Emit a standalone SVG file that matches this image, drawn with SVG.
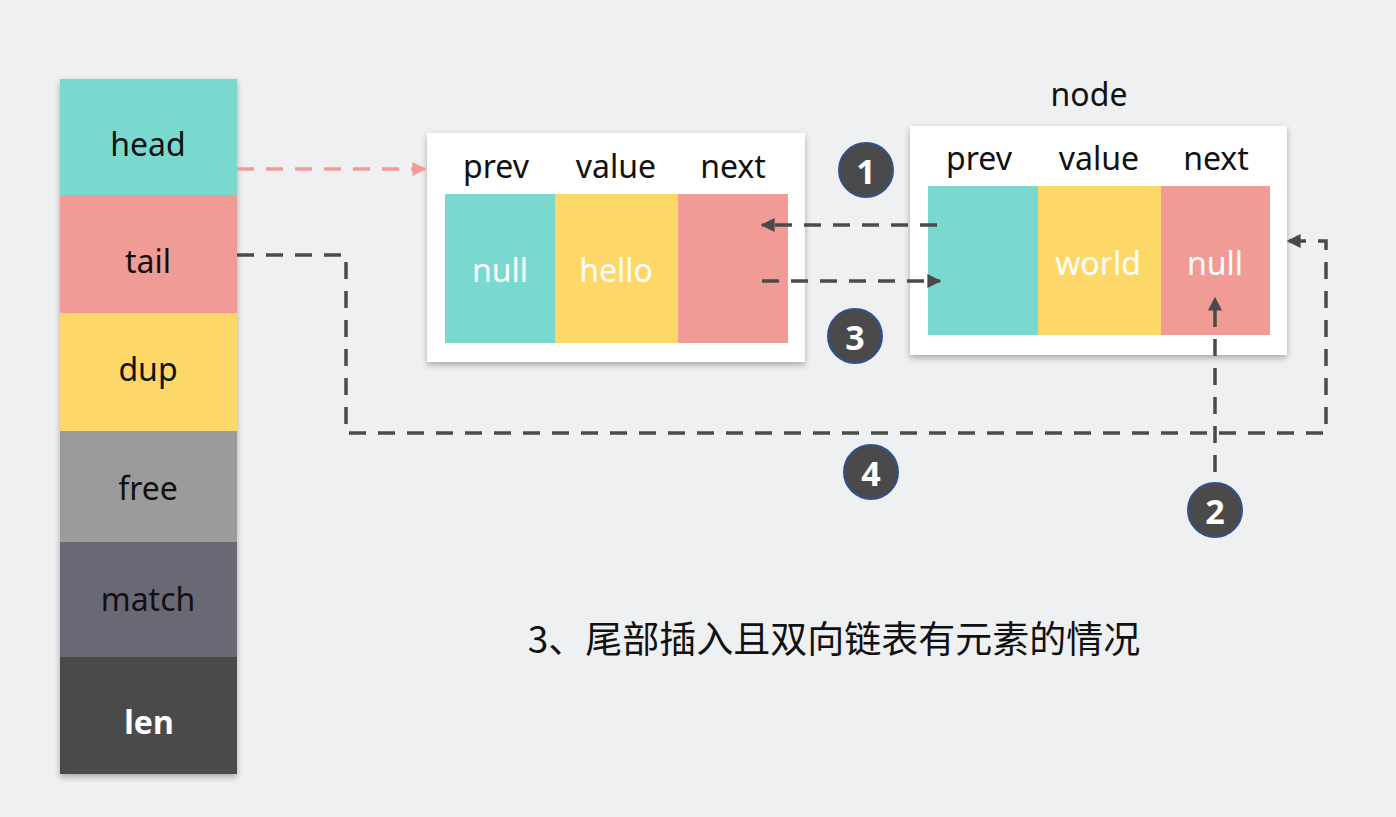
<svg xmlns="http://www.w3.org/2000/svg" width="1396" height="817" viewBox="0 0 1396 817">
<defs>
<style>
.lbl{font-family:"Noto Sans","Liberation Sans",sans-serif;font-size:32px;fill:#111;text-anchor:middle;dominant-baseline:central}
.wt{font-family:"Noto Sans","Liberation Sans",sans-serif;font-size:32px;fill:#fff;text-anchor:middle;dominant-baseline:central}
.num{font-family:"Noto Sans","Liberation Sans",sans-serif;font-size:34px;font-weight:bold;fill:#fff;text-anchor:middle;dominant-baseline:central}
.dash{fill:none;stroke:#4a4a4a;stroke-width:3.5;stroke-dasharray:17 12}
.circ{fill:#4a4a4a;stroke:#2f5190;stroke-width:2}
</style>
<filter id="sh" x="-10%" y="-10%" width="125%" height="125%">
<feDropShadow dx="0" dy="3" stdDeviation="3" flood-color="#000" flood-opacity="0.3"/>
</filter>
<marker id="ah" viewBox="0 0 10 10" refX="9" refY="5" markerWidth="4" markerHeight="4" orient="auto" markerUnits="strokeWidth">
<path d="M0,0 L10,5 L0,10 Z" fill="#4a4a4a"/>
</marker>
<marker id="ahp" viewBox="0 0 10 10" refX="9" refY="5" markerWidth="4" markerHeight="4" orient="auto" markerUnits="strokeWidth">
<path d="M0,0 L10,5 L0,10 Z" fill="#f39c97"/>
</marker>
</defs>
<rect width="1396" height="817" fill="#eff0f2"/>

<g id="list">
<g filter="url(#sh)">
<rect x="60" y="79" width="177" height="695" fill="#4a4a4a"/>
</g>
<rect x="60" y="79" width="177" height="116" fill="#79d9cf"/>
<rect x="60" y="195" width="177" height="118" fill="#f09b95"/>
<rect x="60" y="313" width="177" height="118" fill="#fdd868"/>
<rect x="60" y="431" width="177" height="111" fill="#9b9b9b"/>
<rect x="60" y="542" width="177" height="115" fill="#6a6875"/>
<rect x="60" y="657" width="177" height="117" fill="#4a4a4a"/>
<text class="lbl" x="148" y="143">head</text>
<text class="lbl" x="148" y="260">tail</text>
<text class="lbl" x="148" y="368">dup</text>
<text class="lbl" x="148" y="487">free</text>
<text class="lbl" x="148" y="598">match</text>
<text class="wt" x="149" y="721" style="font-weight:bold">len</text>
</g>

<g id="node1">
<rect x="427" y="133" width="378" height="229" fill="#fff" filter="url(#sh)"/>
<text class="lbl" x="496" y="165">prev</text>
<text class="lbl" x="616" y="165">value</text>
<text class="lbl" x="733" y="165">next</text>
<rect x="445" y="194" width="110" height="149" fill="#79d9cf"/>
<rect x="555" y="194" width="123" height="149" fill="#fdd868"/>
<rect x="678" y="194" width="110" height="149" fill="#f09b95"/>
<text class="wt" x="500" y="269">null</text>
<text class="wt" x="616" y="269">hello</text>
</g>

<g id="node2">
<text class="lbl" x="1089" y="93">node</text>
<rect x="910" y="126" width="377" height="229" fill="#fff" filter="url(#sh)"/>
<text class="lbl" x="979" y="157">prev</text>
<text class="lbl" x="1099" y="157">value</text>
<text class="lbl" x="1216" y="157">next</text>
<rect x="928" y="186" width="110" height="149" fill="#79d9cf"/>
<rect x="1038" y="186" width="123" height="149" fill="#fdd868"/>
<rect x="1161" y="186" width="109" height="149" fill="#f09b95"/>
<text class="wt" x="1098" y="262">world</text>
<text class="wt" x="1215" y="262">null</text>
</g>

<g id="connectors">
<path d="M237,169 H425" fill="none" stroke="#f39c97" stroke-width="3.5" stroke-dasharray="17 12" marker-end="url(#ahp)"/>
<path class="dash" d="M937,225 H762" marker-end="url(#ah)"/>
<path class="dash" d="M762,281 H940" marker-end="url(#ah)"/>
<path class="dash" d="M1215,472 V298" marker-end="url(#ah)"/>
<path class="dash" d="M237,255 H346 V433 H1326 V241 H1288" marker-end="url(#ah)"/>
</g>

<g id="badge1"><circle class="circ" cx="866" cy="170" r="27"/><text class="num" x="866" y="171">1</text></g>
<g id="badge3"><circle class="circ" cx="855" cy="336" r="27"/><text class="num" x="855" y="337">3</text></g>
<g id="badge4"><circle class="circ" cx="871" cy="472" r="27"/><text class="num" x="871" y="473">4</text></g>
<g id="badge2"><circle class="circ" cx="1215" cy="510" r="27"/><text class="num" x="1215" y="511">2</text></g>

<text x="834" y="637" style="font-family:'Noto Sans CJK SC','Noto Sans',sans-serif;font-size:37px;fill:#111;text-anchor:middle;dominant-baseline:central">3、尾部插入且双向链表有元素的情况</text>
</svg>
